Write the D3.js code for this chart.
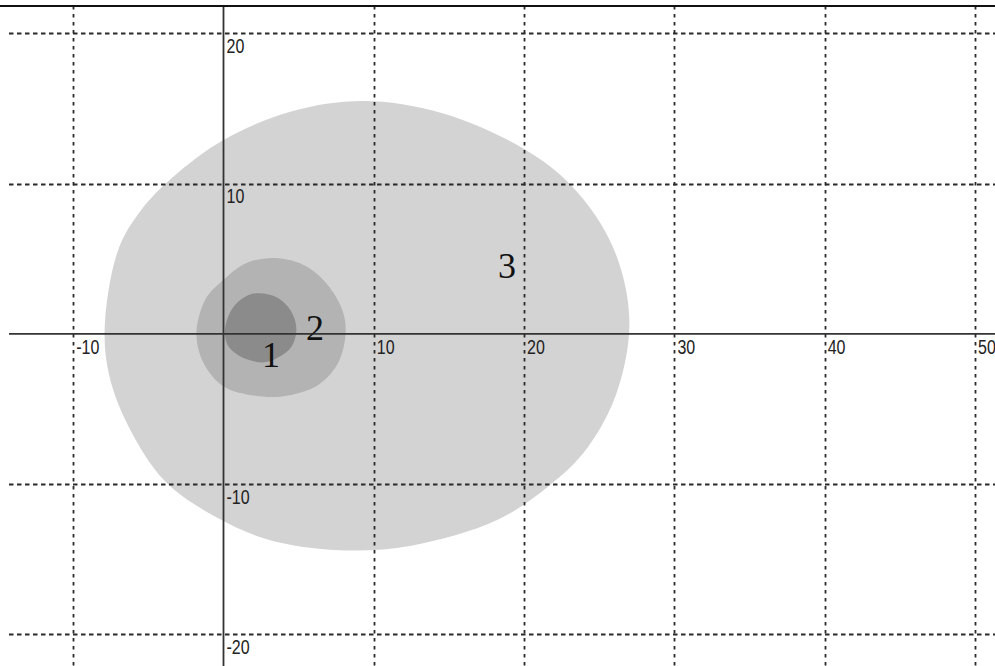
<!DOCTYPE html>
<html>
<head>
<meta charset="utf-8">
<script src="https://cdn.jsdelivr.net/npm/d3@7"></script>
<style>
  html, body { margin: 0; padding: 0; background: #fff; }
  svg { display: block; }
  .tick-label { font-family: "Liberation Sans", Arial, sans-serif; font-size: 20px; fill: #222; }
  .region-label { font-family: "Liberation Serif", "Times New Roman", serif; font-size: 36px; fill: #111; }
</style>
</head>
<body>
<svg id="chart" width="995" height="666"></svg>
<script>
// ---- data ----
const xTicks = [-10, 10, 20, 30, 40, 50];
const yTicks = [-20, -10, 10, 20];

// region 3 (outer, lightest)
const region3 = [
  [-7.9, 0.5], [-7.0, 5.6], [-5.5, 8.2], [-3.4, 10.4], [0, 12.9], [4.5, 14.8], [9.3, 15.5],
  [14.5, 14.7], [20.0, 12.3], [23.2, 9.8], [25.9, 5.8], [27.0, 1.0], [26.2, -3.8],
  [24.2, -7.6], [21.8, -10.0], [18.2, -12.4], [12.5, -14.1], [7.7, -14.4],
  [3.0, -13.7], [-0.5, -12.2], [-3.9, -9.8], [-6.3, -6.2], [-7.6, -2.8]
];
// region 2 (middle)
const region2 = [
  [-1.8, 0.0], [-1.2, 2.3], [0, 3.6], [1.5, 4.7], [3.4, 5.05], [5.5, 4.5], [7.2, 2.9],
  [8.1, 0.8], [7.7, -1.8], [6.3, -3.4], [4.0, -4.15], [2.0, -4.1], [0, -3.5], [-1.3, -2.0]
];
// region 1 (inner, darkest)
const region1 = [
  [0.1, 0.3], [0.6, 1.7], [1.5, 2.5], [2.4, 2.7], [3.6, 2.4], [4.5, 1.5], [4.85, 0.3],
  [4.5, -0.9], [3.6, -1.6], [2.7, -1.9], [1.3, -1.6], [0.3, -0.8]
];
const regionLabels = ["1", "2", "3"];
const labelPos = [[3.16, -2.23], [6.09, -0.43], [18.86, 3.7]];

// ---- drawing ----
const W = 995, H = 666;
const svg = d3.select("#chart");
const x = d3.scaleLinear().domain([-10, 50]).range([73.2, 975]);
const y = d3.scaleLinear().domain([-20, 20]).range([634.3, 33.3]);

const line = d3.line()
  .x(d => x(d[0])).y(d => y(d[1]))
  .curve(d3.curveCatmullRomClosed.alpha(0.5));

const regions = [
  { pts: region3, fill: "#d3d3d3" },
  { pts: region2, fill: "#b3b3b3" },
  { pts: region1, fill: "#8b8b8b" }
];
svg.selectAll("path.region").data(regions).join("path")
  .attr("class", "region")
  .attr("d", d => line(d.pts))
  .attr("fill", d => d.fill);

const topY = 6;
// vertical dashed gridlines
svg.selectAll("line.vgrid").data(xTicks).join("line")
  .attr("class", "vgrid")
  .attr("x1", d => Math.round(x(d)) + 0.5).attr("x2", d => Math.round(x(d)) + 0.5)
  .attr("y1", topY).attr("y2", H)
  .attr("stroke", "#2a2a2a").attr("stroke-width", 1.8).attr("stroke-dasharray", "3.5,4.5");
// horizontal dashed gridlines
svg.selectAll("line.hgrid").data(yTicks).join("line")
  .attr("class", "hgrid")
  .attr("x1", 9).attr("x2", W)
  .attr("y1", d => Math.round(y(d)) + 0.5).attr("y2", d => Math.round(y(d)) + 0.5)
  .attr("stroke", "#2a2a2a").attr("stroke-width", 1.8).attr("stroke-dasharray", "4.5,3.5");

// axes (solid)
svg.append("line")
  .attr("x1", 9).attr("x2", W)
  .attr("y1", y(0)).attr("y2", y(0))
  .attr("stroke", "#333").attr("stroke-width", 1.8);
svg.append("line")
  .attr("x1", x(0)).attr("x2", x(0))
  .attr("y1", topY).attr("y2", H)
  .attr("stroke", "#333").attr("stroke-width", 1.8);

// top border
svg.append("line")
  .attr("x1", 0).attr("x2", W).attr("y1", topY).attr("y2", topY)
  .attr("stroke", "#111").attr("stroke-width", 2);

// tick labels (condensed look)
svg.selectAll("text.xl").data(xTicks).join("text")
  .attr("class", "tick-label xl")
  .attr("transform", d => `translate(${x(d) + 3},${y(0) + 20}) scale(0.8,1)`)
  .text(d => d);
svg.selectAll("text.yl").data(yTicks).join("text")
  .attr("class", "tick-label yl")
  .attr("transform", d => `translate(${x(0) + 3},${y(d) + 19.5}) scale(0.8,1)`)
  .text(d => d);

// region labels
svg.selectAll("text.rl").data(regionLabels).join("text")
  .attr("class", "region-label rl")
  .attr("text-anchor", "middle")
  .attr("x", (d, i) => x(labelPos[i][0]))
  .attr("y", (d, i) => y(labelPos[i][1]))
  .text(d => d);
</script>
</body>
</html>
